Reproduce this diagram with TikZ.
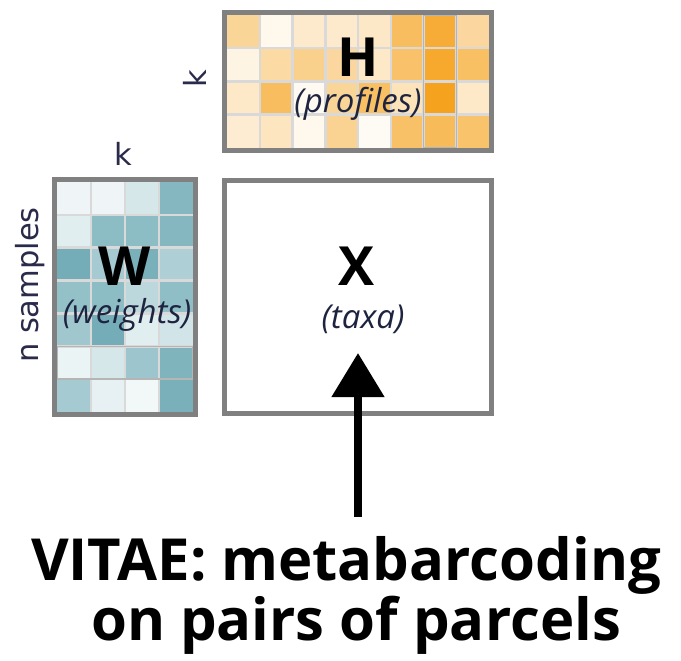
\documentclass[tikz,border=0pt]{standalone}
\usepackage{fontspec}
\setmainfont{Open Sans}
\newfontfamily\labfont{DejaVu Sans}
\usetikzlibrary{arrows.meta}
\definecolor{boxgray}{HTML}{808080}
\definecolor{gridgray}{HTML}{D9D9D9}
\definecolor{hilite}{HTML}{B5B5B5}
\definecolor{labnavy}{HTML}{2A2A4A}
\definecolor{subnavy}{HTML}{1E2440}
\definecolor{hor}{HTML}{F5A11A}
\definecolor{wteal}{HTML}{5B9FAB}
\tikzset{
  frame/.style={draw=boxgray, line width=5pt, inner sep=0pt, fill=none},
  bigletter/.style={anchor=base, font=\bfseries\fontsize{54}{54}\selectfont},
  subtext/.style={anchor=base, text=subnavy, font=\itshape\fontsize{33}{33}\selectfont},
  dimlabel/.style={text=labnavy, font=\labfont\fontsize{30.5}{30.5}\selectfont, inner sep=0pt},
  caption/.style={anchor=base, font=\bfseries\fontsize{58}{58}\selectfont},
  gridline/.style={draw=gridgray, line width=2.5pt},
  bigarrow/.style={line width=8pt, -{Triangle[width=51pt,length=44pt]}}
}
\begin{document}
\begin{tikzpicture}[x=1pt,y=-1pt]
\useasboundingbox[fill=white] (0,0) rectangle (681,661);
% ---------- H matrix (8 x 4) ----------
\foreach \row [count=\r from 0] in {{45,8,22,22,25,70,88,42},{12,40,50,42,24,65,92,68},{24,70,6,45,68,30,98,24},{20,28,8,48,5,66,72,64}}{
  \foreach \p [count=\c from 0] in \row {
    \fill[hor!\p!white] ({227+\c*32.75},{15+\r*33.25}) rectangle ++(32.75,33.25);
  }
}
\foreach \c in {1,...,7} \draw[gridline] ({227+\c*32.75},15) -- ++(0,133);
\foreach \r in {1,2,3} \draw[gridline] (227,{15+\r*33.25}) -- ++(262,0);
\draw[hilite, line width=1.5pt] ({227+6*32.75},15) rectangle ++(32.75,133);
\node[frame, minimum width=267pt, minimum height=138pt] (H) at (358,81.5) {};
% ---------- W matrix (4 x 7) ----------
\foreach \row [count=\r from 0] in {{10,10,25,75},{18,70,70,75},{85,55,82,50},{65,70,40,68},{58,85,18,28},{12,25,60,78},{55,15,8,82}}{
  \foreach \p [count=\c from 0] in \row {
    \fill[wteal!\p!white] ({57+\c*34},{182+\r*32.857}) rectangle ++(34,32.857);
  }
}
\foreach \c in {1,2,3} \draw[gridline] ({57+\c*34},182) -- ++(0,230);
\foreach \r in {1,...,6} \draw[gridline] (57,{182+\r*32.857}) -- ++(136,0);
\draw[hilite, line width=1.5pt] (57,{182+5*32.857}) rectangle ++(136,32.857);
\node[frame, minimum width=141pt, minimum height=235pt] (W) at (125,297) {};
% ---------- X matrix ----------
\node[frame, minimum width=267pt, minimum height=233pt] (X) at (358,297) {};
% ---------- letters ----------
\node[bigletter] (Hl) at (358,77) {H};
\node[subtext] (Hs) at (358,113) {(profiles)};
\node[bigletter] (Wl) at (125,285) {W};
\node[subtext] (Ws) at (127,323) {(weights)};
\node[bigletter] (Xl) at (357,285) {X};
\node[subtext] (Xs) at (363,328) {(taxa)};
% ---------- dimension labels ----------
\node[dimlabel, anchor=base] (kW) at (123,165) {k};
\node[dimlabel, rotate=90] (kH) at (195,79) {k};
\node[dimlabel, rotate=90] (ns) at (30,285) {n samples};
% ---------- arrow and caption ----------
\coordinate (tail) at (358,517);
\coordinate (tip) at (358,353);
\draw[bigarrow] (tail) -- (tip);
\node[caption] (cap1) at (346,580) {VITAE: metabarcoding};
\node[caption] (cap2) at (356,640) {on pairs of parcels};
\end{tikzpicture}
\end{document}
